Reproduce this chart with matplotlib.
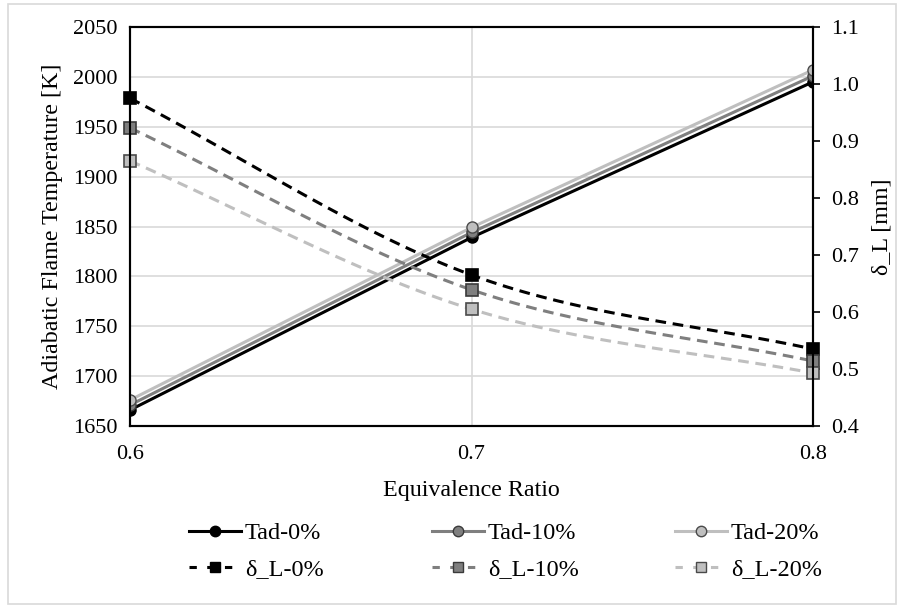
"""
flame temperature and flame thickness vs equivalence ratio
"""

import numpy as np
import matplotlib
matplotlib.use("Agg")
import matplotlib.pyplot as plt
from matplotlib.lines import Line2D
from matplotlib.patches import Rectangle

plt.rcParams['font.family'] = ['Liberation Serif', 'DejaVu Serif']

phi = [0.6, 0.7, 0.8]

tad_0 = [1666, 1839, 1995]
tad_10 = [1671, 1844, 2001]
tad_20 = [1676, 1849, 2007]

dl_0 = [0.975, 0.665, 0.535]
dl_10 = [0.923, 0.639, 0.514]
dl_20 = [0.865, 0.605, 0.493]

line_cols = ['black', '#7f7f7f', '#bfbfbf']
face_cols = ['black', '#7f7f7f', '#bfbfbf']
edge_cols = ['black', '#3a3a3a', '#4a4a4a']


def smooth(x, y, n=40):
    # catmull-rom style bezier through the points (like a smoothed line)
    x = np.asarray(x, float)
    y = np.asarray(y, float)
    px = np.concatenate([[2 * x[0] - x[1]], x, [2 * x[-1] - x[-2]]])
    py = np.concatenate([[2 * y[0] - y[1]], y, [2 * y[-1] - y[-2]]])
    xs, ys = [], []
    t = np.linspace(0, 1, n)
    for i in range(1, len(px) - 2):
        p0 = np.array([px[i], py[i]])
        p3 = np.array([px[i + 1], py[i + 1]])
        c1 = p0 + (np.array([px[i + 1], py[i + 1]]) - np.array([px[i - 1], py[i - 1]])) / 6
        c2 = p3 - (np.array([px[i + 2], py[i + 2]]) - np.array([px[i], py[i]])) / 6
        b = ((1 - t) ** 3)[:, None] * p0 + (3 * (1 - t) ** 2 * t)[:, None] * c1 \
            + (3 * (1 - t) * t ** 2)[:, None] * c2 + (t ** 3)[:, None] * p3
        xs.extend(b[:, 0])
        ys.extend(b[:, 1])
    return xs, ys


fig = plt.figure(figsize=(9.04, 6.07), dpi=100)
fig.patches.append(Rectangle((8 / 904, 3 / 607), 888 / 904, 600 / 607, transform=fig.transFigure,
                             fill=False, edgecolor='#d9d9d9', linewidth=1.2))

ax = fig.add_axes([130 / 904, 1 - 426 / 607, (813 - 130) / 904, (426 - 27) / 607])
ax2 = ax.twinx()

dash = (3.5, 2.2)
tads = [tad_0, tad_10, tad_20]
dls = [dl_0, dl_10, dl_20]
columns = []
for i, lab in enumerate(['0%', '10%', '20%']):
    ax.plot(phi, tads[i], color=line_cols[i], lw=2.2, zorder=3 - i * 0.1)
    ax.plot(phi, tads[i], 'o', ms=8, mfc=face_cols[i], mec=edge_cols[i], mew=1, zorder=4)
    sx, sy = smooth(phi, dls[i])
    ax2.plot(sx, sy, color=line_cols[i], lw=2.2, dashes=dash)
    ax2.plot(phi, dls[i], 's', ms=8, mfc=face_cols[i], mec=edge_cols[i], mew=1.2, clip_on=False)
    h1 = Line2D([], [], color=line_cols[i], lw=2.2, marker='o', ms=7.5,
                mfc=face_cols[i], mec=edge_cols[i], label='Tad-' + lab)
    h2 = Line2D([], [], color=line_cols[i], lw=2.2, dashes=(2.4, 3.4), marker='s', ms=7.5,
                mfc=face_cols[i], mec=edge_cols[i], label='δ_L-' + lab)
    columns.append([h1, h2])

ax.set_xlim(0.6, 0.8)
ax.set_ylim(1650, 2050)
ax2.set_ylim(0.4, 1.1)
ax.set_xticks([0.6, 0.7, 0.8])
ax.set_yticks(range(1650, 2051, 50))
ax2.set_yticks(np.arange(0.4, 1.11, 0.1))
ax2.set_yticklabels(['%.1f' % v for v in np.arange(0.4, 1.11, 0.1)])

ax.grid(True, color='#d9d9d9', lw=1.2)
ax.set_axisbelow(True)
for a in (ax, ax2):
    for s in a.spines.values():
        s.set_color('black')
        s.set_linewidth(1.5)

ax.tick_params(axis='y', length=0, labelsize=16, pad=9)
ax.tick_params(axis='x', length=0, labelsize=16, pad=14)
ax2.tick_params(axis='y', length=5, width=1.2, direction='out', labelsize=16, pad=8)

ax.set_xlabel('Equivalence Ratio', fontsize=17.3, labelpad=11)
ax.set_ylabel('Adiabatic Flame Temperature [K]', fontsize=17.3, labelpad=7)
ax2.set_ylabel('δ_L [mm]', fontsize=17.3, labelpad=9)

# one legend per column so the columns sit on a fixed grid
for x0, hs in zip([189, 432, 675], columns):
    fig.legend(handles=hs, loc='upper left', bbox_to_anchor=(x0 / 904, 1 - 522 / 607),
               frameon=False, fontsize=17.5, handlelength=2.15, handletextpad=0.15,
               labelspacing=0.58, borderpad=0, borderaxespad=0)

fig.savefig('out.png', dpi=100)
